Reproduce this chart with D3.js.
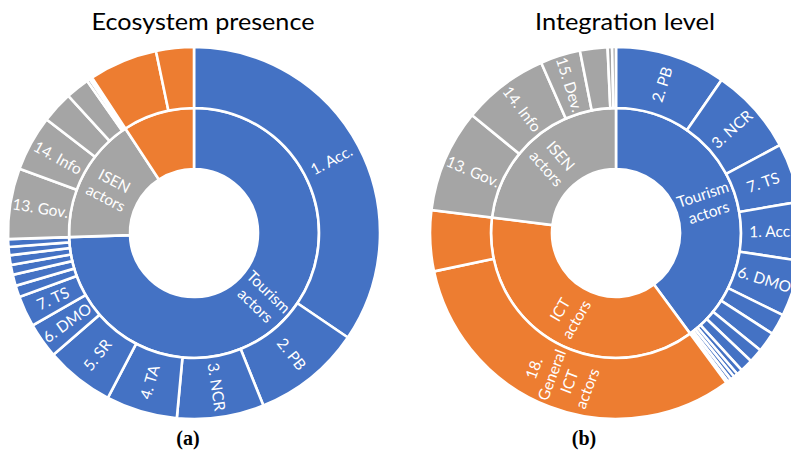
<!DOCTYPE html>
<html>
<head>
<meta charset="utf-8">
<script src="https://cdn.jsdelivr.net/npm/d3@7"></script>
<style>
  html, body { margin: 0; padding: 0; background: #ffffff; }
  svg { display: block; }
</style>
</head>
<body>
<svg id="chart" width="791" height="452"></svg>
<script>
// ---------- DATA (in degrees of the full circle) ----------
const groupNames = ["Tourism\nactors", "ISEN\nactors", "ICT\nactors"];
const groupColors = ["#4472C4", "#A5A5A5", "#ED7D31"];

// (a) Ecosystem presence
const presenceTourismValues = [124.2, 33.9, 27.2, 22.3, 21.5, 11.1, 9.7, 3.6, 3.5, 3.1, 3.0, 2.6, 2.4];
const presenceTourismLabels = ["1. Acc.", "2. PB", "3. NCR", "4. TA", "5. SR", "6. DMO", "7. TS", "", "", "", "", "", ""];
const presenceIsenValues = [22.1, 17.4, 9.9, 7.4, 1.0, 0.8];
const presenceIsenLabels = ["13. Gov.", "14. Info", "", "", "", ""];
const presenceIctValues = [21.5, 11.8];
const presenceIctLabels = ["", ""];

// (b) Integration level
const integrationTourismValues = [34.6, 27.2, 18.5, 18.3, 17.6, 6.6, 6.3, 4.4, 4.0, 1.8, 1.3, 1.3, 1.1, 0.6];
const integrationTourismLabels = ["2. PB", "3. NCR", "7. TS", "1. Acc.", "6. DMO", "", "", "", "", "", "", "", "", ""];
const integrationIctValues = [114.5, 19.0];
const integrationIctLabels = ["18.\nGeneral\nICT\nactors", ""];
const integrationIsenValues = [32.2, 27.0, 12.5, 8.6, 1.4, 1.2];
const integrationIsenLabels = ["13. Gov.", "14. Info", "15. Dev.", "", "", ""];

const titles = ["Ecosystem presence", "Integration level"];
const captions = ["(a)", "(b)"];

// ---------- LAYOUT ----------
const svg = d3.select("#chart");
const R0 = 64, R1 = 125, R2 = 186;

function makeChildren(values, labels) {
  return values.map((v, i) => ({ name: labels[i], value: v }));
}

function drawSunburst(cx, cy, groups) {
  const root = d3.hierarchy({ name: "root", children: groups })
    .sum(d => d.children ? 0 : d.value);
  d3.partition().size([2 * Math.PI, 3])(root);

  const radius = d3.scaleOrdinal().domain([1, 2]).range([[R0, R1], [R1, R2]]);
  const arc = d3.arc()
    .startAngle(d => d.x0)
    .endAngle(d => d.x1)
    .innerRadius(d => radius(d.depth)[0])
    .outerRadius(d => radius(d.depth)[1]);

  const g = svg.append("g").attr("transform", `translate(${cx},${cy})`);
  const nodes = root.descendants().filter(d => d.depth > 0);

  g.selectAll("path")
    .data(nodes)
    .join("path")
    .attr("d", arc)
    .attr("fill", d => (d.depth === 1 ? d.data.color : d.parent.data.color))
    .attr("stroke", "#ffffff")
    .attr("stroke-width", 2.6)
    .attr("stroke-linejoin", "miter");

  const lh = 19;
  const labelled = nodes.filter(d => d.data.name &&
    (d.depth === 2 || (d.x1 - d.x0) * 180 / Math.PI > 40));

  labelled.forEach(d => {
    const a = (d.x0 + d.x1) / 2;
    const deg = a * 180 / Math.PI;
    const r = (radius(d.depth)[0] + radius(d.depth)[1]) / 2;
    const x = r * Math.sin(a), y = -r * Math.cos(a);
    const rot = deg <= 180 ? deg - 90 : deg + 90;
    const lines = d.data.name.split("\n");
    const t = g.append("text")
      .attr("transform", `translate(${x},${y}) rotate(${rot})`)
      .attr("text-anchor", "middle")
      .attr("fill", "#ffffff")
      .attr("font-family", "Lato, 'Open Sans', sans-serif")
      .attr("font-size", 15.5);
    lines.forEach((ln, i) => {
      t.append("tspan")
        .attr("x", 0)
        .attr("y", (i - (lines.length - 1) / 2) * lh)
        .attr("dy", "0.35em")
        .text(ln);
    });
  });
}

drawSunburst(194, 233, [
  { name: groupNames[0], color: groupColors[0], children: makeChildren(presenceTourismValues, presenceTourismLabels) },
  { name: groupNames[1], color: groupColors[1], children: makeChildren(presenceIsenValues, presenceIsenLabels) },
  { name: groupNames[2], color: groupColors[2], children: makeChildren(presenceIctValues, presenceIctLabels) }
]);

drawSunburst(616, 233, [
  { name: groupNames[0], color: groupColors[0], children: makeChildren(integrationTourismValues, integrationTourismLabels) },
  { name: groupNames[2], color: groupColors[2], children: makeChildren(integrationIctValues, integrationIctLabels) },
  { name: groupNames[1], color: groupColors[1], children: makeChildren(integrationIsenValues, integrationIsenLabels) }
]);

// Titles
const titleX = [203, 625];
const titleW = [223, 180];
svg.selectAll("text.title")
  .data(titles)
  .join("text")
  .attr("class", "title")
  .attr("x", (d, i) => titleX[i])
  .attr("y", 30)
  .attr("text-anchor", "middle")
  .attr("font-family", "Lato, 'Open Sans', sans-serif")
  .attr("font-size", 22.5)
  .attr("textLength", (d, i) => titleW[i])
  .attr("lengthAdjust", "spacingAndGlyphs")
  .attr("fill", "#000000")
  .text(d => d);

// Captions
const capX = [188, 584];
svg.selectAll("text.cap")
  .data(captions)
  .join("text")
  .attr("class", "cap")
  .attr("x", (d, i) => capX[i])
  .attr("y", 445)
  .attr("text-anchor", "middle")
  .attr("font-family", "'Liberation Serif', 'Times New Roman', serif")
  .attr("font-weight", "bold")
  .attr("font-size", 20)
  .attr("fill", "#000000")
  .text(d => d);
</script>
</body>
</html>
